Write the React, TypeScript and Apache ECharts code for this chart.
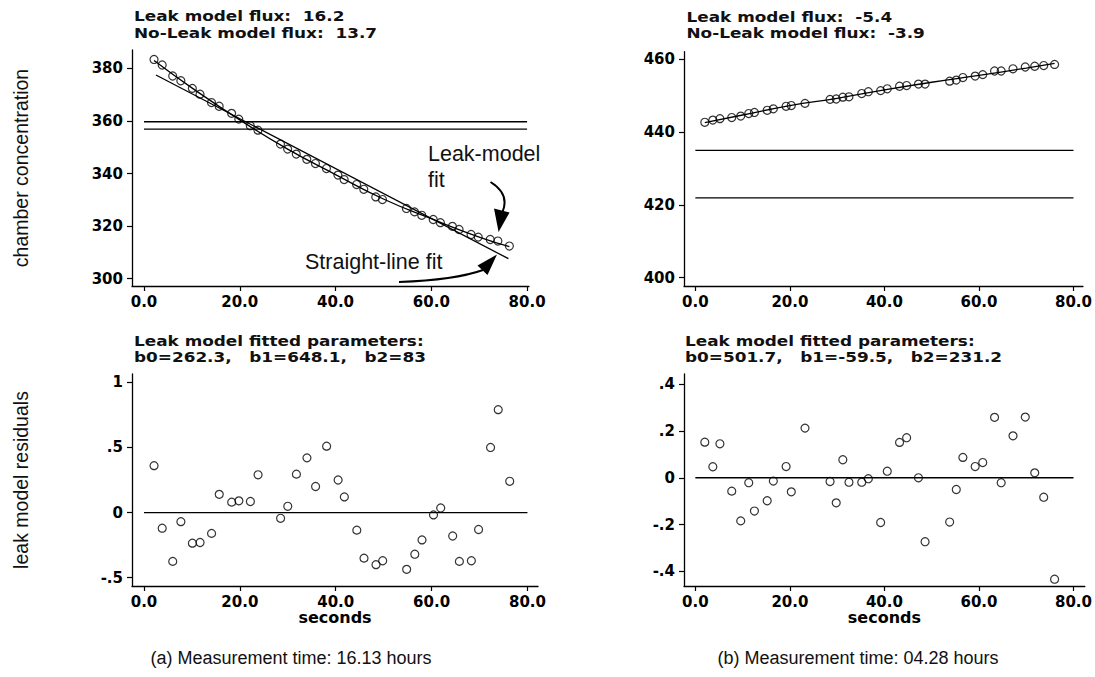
import React, { useEffect, useRef } from "react";
import * as echarts from "echarts";

// ---------- data: panel (a) 16.13 hours ----------
const timesA = [2.1, 3.8, 6.0, 7.7, 10.1, 11.7, 14.1, 15.7, 18.3, 19.8, 22.2, 23.8, 28.5, 30.0, 31.8, 34.0, 35.8, 38.1, 40.5, 41.8, 44.4, 45.9, 48.4, 49.8, 54.8, 56.5, 58.0, 60.4, 61.9, 64.4, 65.8, 68.3, 69.8, 72.3, 73.9, 76.3];
const concA = [383.4, 381.3, 377.1, 375.3, 372.4, 370.2, 367.0, 365.6, 362.9, 360.7, 358.2, 356.5, 351.2, 349.3, 347.4, 345.4, 343.8, 341.9, 339.4, 337.7, 335.8, 334.0, 331.1, 330.1, 326.7, 325.4, 324.1, 322.5, 321.3, 319.9, 318.7, 316.8, 315.8, 314.9, 314.3, 312.4];
const residA = [0.36, -0.12, -0.375, -0.07, -0.235, -0.23, -0.16, 0.14, 0.08, 0.09, 0.085, 0.29, -0.044, 0.048, 0.295, 0.42, 0.2, 0.51, 0.25, 0.12, -0.135, -0.35, -0.4, -0.37, -0.436, -0.32, -0.21, -0.018, 0.035, -0.18, -0.375, -0.37, -0.13, 0.5, 0.79, 0.24];
const fitTimesA = [2.1, 10, 20, 30, 40, 50, 60, 70, 76.3];
const leakFitA = [383.0, 372.6, 360.4, 349.3, 339.6, 330.3, 322.8, 315.8, 312.2];
const lineTimesA = [2.5, 76.1];
const lineFitA = [377.5, 307.6];
const fluxLinesA = [359.7, 356.9];

// ---------- data: panel (b) 04.28 hours ----------
const timesB = [2.0, 3.7, 5.2, 7.7, 9.6, 11.3, 12.5, 15.2, 16.5, 19.2, 20.3, 23.2, 28.5, 29.8, 31.2, 32.5, 35.2, 36.6, 39.2, 40.6, 43.2, 44.7, 47.2, 48.6, 53.8, 55.2, 56.6, 59.2, 60.8, 63.3, 64.7, 67.2, 69.8, 71.8, 73.7, 76.0];
const concB = [442.7, 443.3, 443.7, 444.0, 444.4, 445.1, 445.4, 446.0, 446.4, 447.1, 447.3, 447.9, 449.0, 449.1, 449.6, 449.7, 450.6, 451.1, 451.4, 451.9, 452.6, 452.8, 453.2, 453.2, 454.0, 454.3, 455.0, 455.4, 455.8, 456.8, 456.8, 457.4, 457.9, 458.1, 458.3, 458.6];
const residB = [0.152, 0.047, 0.145, -0.057, -0.184, -0.021, -0.142, -0.098, -0.014, 0.048, -0.06, 0.212, -0.016, -0.107, 0.077, -0.019, -0.019, -0.004, -0.191, 0.028, 0.151, 0.171, 0.0, -0.273, -0.189, -0.05, 0.087, 0.048, 0.065, 0.258, -0.021, 0.179, 0.259, 0.021, -0.083, -0.433];
const fitTimesB = [2.0, 10, 20, 30, 40, 50, 60, 70, 76.0];
const leakFitB = [442.6, 444.7, 447.3, 449.3, 451.6, 453.7, 455.6, 457.6, 458.9];
const fluxLinesB = [435.0, 421.9];

// ---------- ticks ----------
const xTicks = [0, 20, 40, 60, 80];
const yTicksA = [300, 320, 340, 360, 380];
const yTicksB = [400, 420, 440, 460];
const rTicksA = [-0.5, 0, 0.5, 1];
const rTicksB = [-0.4, -0.2, 0, 0.2, 0.4];
const zeroLineX = [0, 80];

// ---------- texts ----------
const headerTexts = [
  "Leak model flux:  16.2",
  "No-Leak model flux:  13.7",
  "Leak model flux:  -5.4",
  "No-Leak model flux:  -3.9",
  "Leak model fitted parameters:",
  "b0=262.3,   b1=648.1,   b2=83",
  "Leak model fitted parameters:",
  "b0=501.7,   b1=-59.5,   b2=231.2",
];
const captions = ["(a) Measurement time: 16.13 hours", "(b) Measurement time: 04.28 hours"];

const zip = (xs: number[], ys: number[]) => xs.map((x, i) => [x, ys[i]]);

const WIDE = "'DejaVu Sans', sans-serif";
const SANS = "'Liberation Sans', Arial, Helvetica, sans-serif";

const residFmt = (v: number) => {
  if (v === 0) return "0";
  const s = String(v);
  return s.replace("0.", ".");
};

function xAxis(gridIndex: number, min: number, max: number, name: string) {
  return {
    type: "value",
    gridIndex,
    min,
    max,
    name,
    nameLocation: "middle",
    nameGap: 23,
    nameTextStyle: { fontFamily: WIDE, fontWeight: "bold", fontSize: 16, color: "#000" },
    axisLine: { show: true, onZero: false, lineStyle: { color: "#000", width: 1.3 } },
    axisTick: { show: true, inside: false, length: 5, customValues: xTicks, lineStyle: { color: "#000", width: 1.2 } },
    axisLabel: {
      customValues: xTicks,
      formatter: (v: number) => v.toFixed(1),
      margin: 8,
      fontFamily: WIDE,
      fontWeight: "bold",
      fontSize: 15,
      color: "#000",
    },
    splitLine: { show: false },
  };
}

function yAxis(gridIndex: number, min: number, max: number, ticks: number[], fmt: (v: number) => string, name: string) {
  return {
    type: "value",
    gridIndex,
    min,
    max,
    name,
    nameLocation: "middle",
    nameRotate: 90,
    nameGap: 101,
    nameTextStyle: { fontFamily: SANS, fontSize: 19.5, color: "#111" },
    axisLine: { show: true, onZero: false, lineStyle: { color: "#000", width: 1.3 } },
    axisTick: { show: true, inside: false, length: 5, customValues: ticks, lineStyle: { color: "#000", width: 1.2 } },
    axisLabel: {
      customValues: ticks,
      formatter: fmt,
      margin: 9,
      fontFamily: WIDE,
      fontWeight: "bold",
      fontSize: 15,
      color: "#000",
    },
    splitLine: { show: false },
  };
}

const circle = (xi: number, data: number[][]) => ({
  type: "scatter",
  xAxisIndex: xi,
  yAxisIndex: xi,
  data,
  symbol: "circle",
  symbolSize: 8,
  itemStyle: { color: "rgba(255,255,255,0)", borderColor: "#000", borderWidth: 1.2 },
  silent: true,
  z: 3,
});

const line = (xi: number, data: number[][], smooth = false) => ({
  type: "line",
  xAxisIndex: xi,
  yAxisIndex: xi,
  data,
  smooth,
  showSymbol: false,
  symbol: "none",
  lineStyle: { color: "#000", width: 1.3 },
  silent: true,
  z: 2,
});

export default function App() {
  const ref = useRef<HTMLDivElement>(null);

  useEffect(() => {
    if (!ref.current) return;
    const chart = echarts.init(ref.current, undefined, { renderer: "svg" });

    const headerPos = [
      [134, 17],
      [134, 33.5],
      [686.5, 17.3],
      [686.5, 33.5],
      [134, 341.7],
      [134, 357.5],
      [685, 341.7],
      [685, 357.5],
    ];

    const graphic: any[] = [];
    headerTexts.forEach((t, i) => {
      graphic.push({
        type: "text",
        x: headerPos[i][0],
        y: headerPos[i][1],
        scaleX: 1.25,
        silent: true,
        style: {
          text: t,
          fontFamily: WIDE,
          fontWeight: "bold",
          fontSize: 13.5,
          fill: "#111",
          align: "left",
          verticalAlign: "middle",
        },
      });
    });
    graphic.push(
      {
        type: "text",
        x: 291,
        y: 658,
        style: { text: captions[0], fontFamily: SANS, fontSize: 18, fill: "#111", align: "center", verticalAlign: "middle" },
      },
      {
        type: "text",
        x: 858,
        y: 658,
        style: { text: captions[1], fontFamily: SANS, fontSize: 18, fill: "#111", align: "center", verticalAlign: "middle" },
      },
      {
        type: "text",
        x: 428,
        y: 154,
        style: { text: "Leak-model", fontFamily: SANS, fontSize: 21.5, fill: "#111", align: "left", verticalAlign: "middle" },
      },
      {
        type: "text",
        x: 428,
        y: 180,
        style: { text: "fit", fontFamily: SANS, fontSize: 21.5, fill: "#111", align: "left", verticalAlign: "middle" },
      },
      {
        type: "text",
        x: 305,
        y: 261.5,
        style: { text: "Straight-line fit", fontFamily: SANS, fontSize: 21.5, fill: "#111", align: "left", verticalAlign: "middle" },
      },
      // arrow 1 (Leak-model fit)
      {
        type: "bezierCurve",
        shape: { x1: 490.5, y1: 182, cpx1: 510, cpy1: 194, x2: 502.5, y2: 212 },
        style: { stroke: "#000", lineWidth: 2, fill: "none" },
      },
      {
        type: "polygon",
        shape: { points: [[494, 208.5], [509.5, 212.5], [498.6, 232]] },
        style: { fill: "#000" },
      },
      // arrow 2 (Straight-line fit)
      {
        type: "bezierCurve",
        shape: { x1: 399, y1: 282, cpx1: 455, cpy1: 280, x2: 483, y2: 270 },
        style: { stroke: "#000", lineWidth: 2, fill: "none" },
      },
      {
        type: "polygon",
        shape: { points: [[477.5, 265.5], [487.5, 275], [497, 254.5]] },
        style: { fill: "#000" },
      }
    );

    const option: any = {
      animation: false,
      backgroundColor: "#fff",
      grid: [
        { left: 132, top: 50, width: 397, height: 236 },
        { left: 684, top: 51.7, width: 406, height: 234.3 },
        { left: 132, top: 374, width: 406, height: 212 },
        { left: 684, top: 374, width: 408, height: 212 },
      ],
      xAxis: [
        xAxis(0, -2.5, 80.4, ""),
        xAxis(1, -2.4, 82.0, ""),
        xAxis(2, -2.5, 82.2, "seconds"),
        xAxis(3, -2.4, 82.4, "seconds"),
      ],
      yAxis: [
        yAxis(0, 297.2, 387.0, yTicksA, (v) => String(v), "chamber concentration"),
        yAxis(1, 397.7, 462.1, yTicksB, (v) => String(v), ""),
        yAxis(2, -0.564, 1.064, rTicksA, residFmt, "leak model residuals"),
        yAxis(3, -0.462, 0.443, rTicksB, residFmt, ""),
      ],
      series: [
        line(0, zip(zeroLineX, [fluxLinesA[0], fluxLinesA[0]])),
        line(0, zip(zeroLineX, [fluxLinesA[1], fluxLinesA[1]])),
        line(0, zip(lineTimesA, lineFitA)),
        line(0, zip(fitTimesA, leakFitA), true),
        circle(0, zip(timesA, concA)),
        line(1, zip(zeroLineX, [fluxLinesB[0], fluxLinesB[0]])),
        line(1, zip(zeroLineX, [fluxLinesB[1], fluxLinesB[1]])),
        line(1, zip(fitTimesB, leakFitB), true),
        circle(1, zip(timesB, concB)),
        line(2, zip(zeroLineX, [0, 0])),
        circle(2, zip(timesA, residA)),
        line(3, zip(zeroLineX, [0, 0])),
        circle(3, zip(timesB, residB)),
      ],
      graphic,
    };

    chart.setOption(option);
    return () => chart.dispose();
  }, []);

  return (
    <div
      ref={ref}
      style={{ position: "absolute", left: 0, top: 0, width: 1095, height: 677, background: "#fff" }}
    />
  );
}
